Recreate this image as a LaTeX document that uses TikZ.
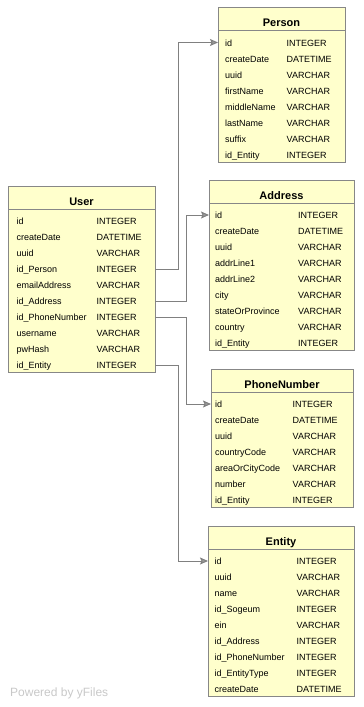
\documentclass[tikz,border=0pt]{standalone}
\usepackage{fontspec}
\setmainfont{Liberation Sans}
\usetikzlibrary{arrows.meta}

\definecolor{tabfill}{RGB}{255,255,204}
\definecolor{tabedge}{RGB}{135,135,135}
\definecolor{linkgray}{RGB}{128,128,128}
\definecolor{creditgray}{RGB}{200,200,200}

\tikzset{
  tabbox/.style={fill=tabfill,draw=tabedge,line width=1pt},
  tabrule/.style={draw=tabedge,line width=1pt},
  tabtitle/.style={font=\fontsize{11}{12}\selectfont\bfseries,inner sep=0pt,anchor=base},
  fieldtext/.style={font=\fontsize{9}{10}\selectfont,inner sep=0pt,anchor=base west},
  fklink/.style={draw=linkgray,line width=1pt,-{Stealth[length=8pt,width=7pt,inset=1.5pt,fill=linkgray!80]}},
}

% table: #1 name, #2 left, #3 top, #4 width, #5 name column, #6 type column, #7 title, #8 fields
\newcommand{\ertable}[8]{%
  \foreach \fname/\ftype [count=\i] in {#8} {\xdef\nrows{\i}}
  \path[tabbox] (#2,#3) rectangle ++(#4,{42.5+16*(\nrows-1)});
  \draw[tabrule] (#2,{#3+23}) -- ++(#4,0);
  \node[tabtitle] (#1) at ({#2+#4/2},{#3+19}) {#7};
  \foreach \fname/\ftype [count=\i] in {#8} {
    \path (#2,{#3+35+16*(\i-1)}) coordinate (#1-\i-w) ++(#4,0) coordinate (#1-\i-e);
    \node[fieldtext] (#1-\i-name) at (#5,{#3+38.5+16*(\i-1)}) {\fname};
    \node[fieldtext] (#1-\i-type) at (#6,{#3+38.5+16*(\i-1)}) {\ftype};
  }
}

\begin{document}
\begin{tikzpicture}[x=1pt,y=-1pt]
  \useasboundingbox (0,0) rectangle (364,707);

  % tables
  \ertable{user}{8}{186}{147}{16.5}{96.5}{User}{id/INTEGER, createDate/DATETIME, uuid/VARCHAR,
    id\_Person/INTEGER, emailAddress/VARCHAR, id\_Address/INTEGER, id\_PhoneNumber/INTEGER,
    username/VARCHAR, pwHash/VARCHAR, id\_Entity/INTEGER}
  \ertable{person}{218}{7.5}{127}{225}{286.5}{Person}{id/INTEGER, createDate/DATETIME, uuid/VARCHAR,
    firstName/VARCHAR, middleName/VARCHAR, lastName/VARCHAR, suffix/VARCHAR, id\_Entity/INTEGER}
  \ertable{address}{209}{180}{145}{215}{298}{Address}{id/INTEGER, createDate/DATETIME, uuid/VARCHAR,
    addrLine1/VARCHAR, addrLine2/VARCHAR, city/VARCHAR, stateOrProvince/VARCHAR,
    country/VARCHAR, id\_Entity/INTEGER}
  \ertable{phone}{211}{369}{142}{215}{292.5}{PhoneNumber}{id/INTEGER, createDate/DATETIME, uuid/VARCHAR,
    countryCode/VARCHAR, areaOrCityCode/VARCHAR, number/VARCHAR, id\_Entity/INTEGER}
  \ertable{entity}{208}{526}{146}{214.5}{296.5}{Entity}{id/INTEGER, uuid/VARCHAR, name/VARCHAR,
    id\_Sogeum/INTEGER, ein/VARCHAR, id\_Address/INTEGER, id\_PhoneNumber/INTEGER,
    id\_EntityType/INTEGER, createDate/DATETIME}

  % foreign keys
  \draw[fklink] (user-4-e) -- ++(23,0) |- (person-1-w);
  \draw[fklink] (user-6-e) -- ++(31,0) |- (address-1-w);
  \draw[fklink] (user-7-e) -- ++(31,0) |- (phone-1-w);
  \draw[fklink] (user-10-e) -- ++(23,0) |- (entity-1-w);

  % credit
  \node[font=\fontsize{12}{14}\selectfont,text=creditgray,inner sep=0pt,anchor=base west]
    (credit) at (10,696) {Powered by yFiles};
\end{tikzpicture}
\end{document}
